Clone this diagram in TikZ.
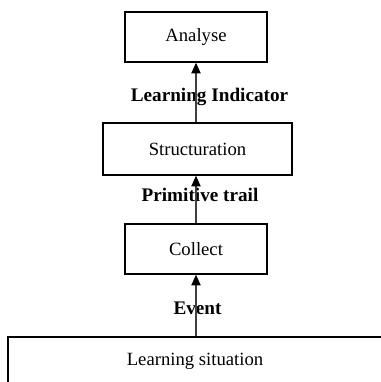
\documentclass[tikz,border=0pt]{standalone}
\usepackage{fontspec}
\setmainfont{Liberation Serif}
\usetikzlibrary{arrows.meta}
\tikzset{
    blk/.style={draw, line width=1.1pt, inner sep=0pt, font=\fontsize{14}{16}\selectfont},
    lbl/.style={inner sep=0pt, font=\fontsize{14.4}{16}\selectfont\bfseries},
    arr/.style={-{Triangle[length=8pt,width=7pt,color=black]}, line width=0.8pt, black!75}
}
\begin{document}
\begin{tikzpicture}[x=0.75pt,y=-0.75pt]
    \useasboundingbox (0,0) rectangle (380,382);
    
    \node[blk, minimum width=106.5pt, minimum height=37.5pt] (analyse) at (196,37) {Analyse};
    \node[blk, minimum width=141.75pt, minimum height=39pt] (struct) at (197.5,149) {Structuration};
    \node[blk, minimum width=106.5pt, minimum height=37.5pt] (collect) at (196,249) {Collect};
    \node[blk, minimum width=292.5pt, minimum height=37.5pt, text depth=0pt] (situation) at (203,362) {\hspace*{-12pt}\raisebox{4pt}{Learning situation}};
    
    \node[lbl] (indic) at (209.5,97) {Learning Indicator};
    \node[lbl] (trail) at (200,195) {Primitive trail};
    \node[lbl] (event) at (197.5,308) {Event};
    
    \draw[arr] (situation.north -| collect.south) -- (collect.south);
    \draw[arr] (collect.north) -- (collect.north |- struct.south);
    \draw[arr] (struct.north -| analyse.south) -- (analyse.south);
\end{tikzpicture}
\end{document}
